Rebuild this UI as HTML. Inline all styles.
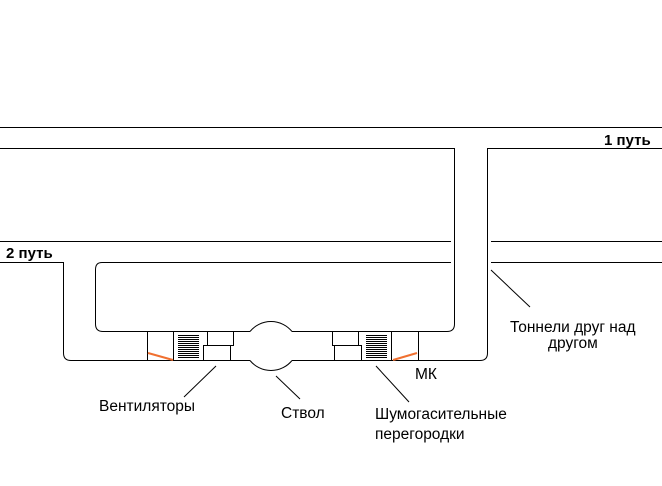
<!DOCTYPE html>
<html><head><meta charset="utf-8"><style>
html,body{margin:0;padding:0;background:#fff;width:662px;height:486px;overflow:hidden}
text{font-family:"Liberation Sans",sans-serif;font-size:15.5px;fill:#000}
</style></head><body>
<svg width="662" height="486" viewBox="0 0 662 486" xmlns="http://www.w3.org/2000/svg">
<g fill="none" stroke="#000" stroke-width="1">
<line x1="0" y1="127.5" x2="662" y2="127.5"/>
<path d="M0 148.5 H454.5 V324 q0 7.5 -7.5 7.5 H292"/>
<path d="M662 148.5 H487.5 V353 q0 7.5 -7.5 7.5 H292"/>
<line x1="0" y1="241.5" x2="451" y2="241.5"/>
<line x1="491" y1="241.5" x2="662" y2="241.5"/>
<path d="M451 262.5 H102 q-6.5 0 -6.5 7 V324 q0 7.5 7.5 7.5 H250"/>
<line x1="491" y1="262.5" x2="662" y2="262.5"/>
<path d="M0 262.5 H63.5 V353 q0 7.5 7.5 7.5 H250"/>
<path d="M250 331.5 A27 27 0 0 1 292 331.5"/>
<path d="M250 360.5 A27 27 0 0 0 292 360.5"/>
<line x1="147.5" y1="331.5" x2="147.5" y2="360.5"/>
<line x1="173.5" y1="331.5" x2="173.5" y2="360.5"/>
<line x1="391.5" y1="331.5" x2="391.5" y2="360.5"/>
<line x1="418.5" y1="331.5" x2="418.5" y2="360.5"/>
<rect x="207.5" y="331.5" width="26" height="14"/>
<rect x="203.5" y="345.5" width="27" height="15"/>
<rect x="332.5" y="331.5" width="26" height="14"/>
<rect x="334.5" y="345.5" width="27" height="15"/>
<line x1="216" y1="366" x2="184" y2="397"/>
<line x1="276" y1="376" x2="300" y2="399"/>
<line x1="376" y1="366" x2="409" y2="402"/>
<line x1="491" y1="270" x2="530" y2="307"/>
</g>
<g stroke="#000" stroke-width="1">
<path d="M178 335.5h21M178 337.5h21M178 339.5h21M178 341.5h21M178 343.5h21M178 345.5h21M178 347.5h21M178 349.5h21M178 351.5h21M178 353.5h21M178 355.5h21M178 357.5h21"/>
<path d="M366 335.5h21M366 337.5h21M366 339.5h21M366 341.5h21M366 343.5h21M366 345.5h21M366 347.5h21M366 349.5h21M366 351.5h21M366 353.5h21M366 355.5h21M366 357.5h21"/>
</g>
<line x1="148" y1="353" x2="173" y2="360" stroke="#f07030" stroke-width="2"/>
<line x1="393" y1="360" x2="417" y2="353" stroke="#f07030" stroke-width="2"/>
<text x="604" y="145" style="font-weight:bold;font-size:15px">1 путь</text>
<text x="6" y="258" style="font-weight:bold;font-size:15px">2 путь</text>
<text x="99" y="411">Вентиляторы</text>
<text x="281" y="418">Ствол</text>
<text x="375" y="419">Шумогасительные</text>
<text x="375" y="439">перегородки</text>
<text x="415" y="379">МК</text>
<text x="510" y="332">Тоннели друг над</text>
<text x="548" y="348">другом</text>
</svg>
</body></html>
